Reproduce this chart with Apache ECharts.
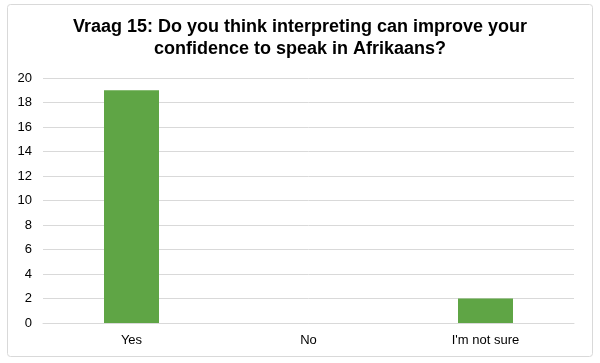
<!DOCTYPE html>
<html><head><meta charset="utf-8">
<script src="https://cdn.jsdelivr.net/npm/echarts@6/dist/echarts.min.js"></script>
<style>html,body{margin:0;padding:0;background:#fff}#c{width:600px;height:363px}</style>
</head><body><div id="c"></div>
<script>
const title = "Vraag 15: Do you think interpreting can improve your\nconfidence to speak in Afrikaans?";
const categories = ["Yes", "No", "I'm not sure"];
const values = [19, 0, 2];
const yTicks = [0, 2, 4, 6, 8, 10, 12, 14, 16, 18, 20];

const chart = echarts.init(document.getElementById('c'), null, {renderer: 'canvas'});
chart.setOption({
  animation: false,
  backgroundColor: '#fff',
  graphic: [{
    type: 'rect', shape: {x: 7.5, y: 4.5, width: 585, height: 352, r: 3},
    style: {fill: 'none', stroke: '#d9d9d9', lineWidth: 1}, silent: true
  }],
  title: {
    text: title, left: 'center', top: 11,
    textStyle: {fontFamily: 'Liberation Sans, Arial, sans-serif', fontWeight: 'bold', fontSize: 18, color: '#000', lineHeight: 22}
  },
  grid: {left: 43, right: 26, top: 78, bottom: 40, containLabel: false},
  xAxis: {
    type: 'category', data: categories,
    axisLine: {lineStyle: {color: '#d9d9d9'}},
    axisTick: {show: false},
    axisLabel: {fontFamily: 'Liberation Sans, Arial, sans-serif', fontSize: 13, color: '#000', margin: 11}
  },
  yAxis: {
    type: 'value', min: yTicks[0], max: yTicks[yTicks.length - 1], interval: 2,
    axisLine: {show: false}, axisTick: {show: false},
    splitLine: {lineStyle: {color: '#d9d9d9'}},
    axisLabel: {fontFamily: 'Liberation Sans, Arial, sans-serif', fontSize: 13, color: '#000', margin: 11}
  },
  series: [{
    type: 'bar', data: values, barWidth: 55,
    itemStyle: {color: '#5FA545'}
  }]
});
</script></body></html>
